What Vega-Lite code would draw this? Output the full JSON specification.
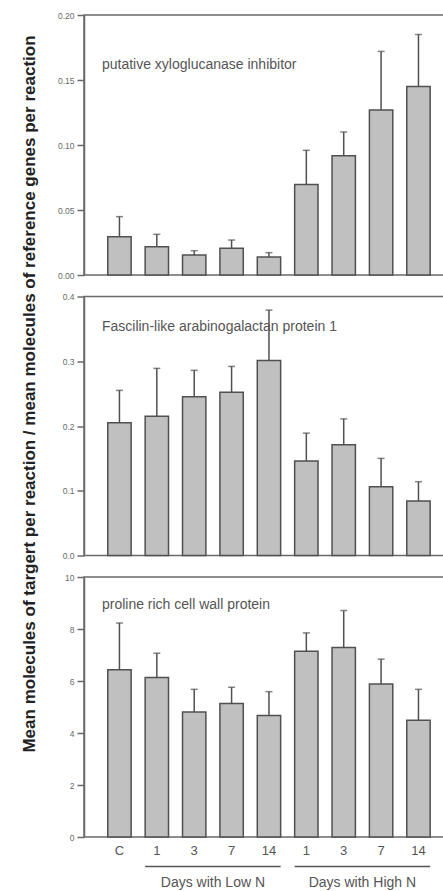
{
  "$schema": "https://vega.github.io/schema/vega-lite/v6.json",
  "padding": {"left": 19, "top": 10, "right": 0, "bottom": 0},
  "bounds": "flush",
  "spacing": 21.5,
  "config": {
    "font": "Liberation Sans",
    "view": {"stroke": "#6a6a6a", "strokeWidth": 1.5},
    "axis": {"grid": false, "domainColor": "#6a6a6a", "domainWidth": 1.5, "tickColor": "#6a6a6a", "tickWidth": 1.5, "tickSize": 7, "labelColor": "#6a6a6a", "labelFontSize": 8.5, "labelPadding": 3}
  },
  "datasets": {
    "xylo": [
      {"cond": "C", "mean": 0.0295, "upper": 0.0449},
      {"cond": "L1", "mean": 0.0218, "upper": 0.0313},
      {"cond": "L3", "mean": 0.0154, "upper": 0.0187},
      {"cond": "L7", "mean": 0.0205, "upper": 0.0269},
      {"cond": "L14", "mean": 0.0138, "upper": 0.0172},
      {"cond": "H1", "mean": 0.0697, "upper": 0.0959},
      {"cond": "H3", "mean": 0.0918, "upper": 0.110},
      {"cond": "H7", "mean": 0.127, "upper": 0.172},
      {"cond": "H14", "mean": 0.145, "upper": 0.185}
    ],
    "fasc": [
      {"cond": "C", "mean": 0.205, "upper": 0.255},
      {"cond": "L1", "mean": 0.215, "upper": 0.289},
      {"cond": "L3", "mean": 0.245, "upper": 0.286},
      {"cond": "L7", "mean": 0.252, "upper": 0.292},
      {"cond": "L14", "mean": 0.301, "upper": 0.379},
      {"cond": "H1", "mean": 0.146, "upper": 0.189},
      {"cond": "H3", "mean": 0.171, "upper": 0.211},
      {"cond": "H7", "mean": 0.106, "upper": 0.150},
      {"cond": "H14", "mean": 0.084, "upper": 0.114}
    ],
    "prol": [
      {"cond": "C", "mean": 6.43, "upper": 8.23},
      {"cond": "L1", "mean": 6.13, "upper": 7.07},
      {"cond": "L3", "mean": 4.81, "upper": 5.68},
      {"cond": "L7", "mean": 5.13, "upper": 5.76},
      {"cond": "L14", "mean": 4.67, "upper": 5.59},
      {"cond": "H1", "mean": 7.14, "upper": 7.85},
      {"cond": "H3", "mean": 7.29, "upper": 8.71},
      {"cond": "H7", "mean": 5.88, "upper": 6.84},
      {"cond": "H14", "mean": 4.49, "upper": 5.68}
    ],
    "groups": [
      {"group": "Days with Low N", "from": "L1", "to": "L14", "mid": "L3"},
      {"group": "Days with High N", "from": "H1", "to": "H14", "mid": "H3"}
    ]
  },
  "vconcat": [
    {
      "width": 362, "height": 260,
      "data": {"name": "xylo"},
      "layer": [
        {"mark": {"type": "bar", "fill": "#c0c0c0", "stroke": "#505050", "strokeWidth": 1.5},
         "encoding": {
           "x": {"field": "cond", "type": "nominal", "axis": null, "scale": {"domain": ["C","L1","L3","L7","L14","H1","H3","H7","H14"], "paddingInner": 0.375, "paddingOuter": 0.53, "align": 0.6}},
           "y": {"field": "mean", "type": "quantitative", "title": null, "scale": {"domain": [0, 0.2], "nice": false}, "axis": {"values": [0, 0.05, 0.1, 0.15, 0.2], "format": ".2f"}}}},
        {"mark": {"type": "rule", "color": "#505050", "strokeWidth": 1.5},
         "encoding": {
           "x": {"field": "cond", "type": "nominal"},
           "y": {"field": "mean", "type": "quantitative", "title": null},
           "y2": {"field": "upper"}}},
        {"mark": {"type": "tick", "color": "#505050", "thickness": 1.5, "size": 7},
         "encoding": {
           "x": {"field": "cond", "type": "nominal"},
           "y": {"field": "upper", "type": "quantitative", "title": null}}},
        {"data": {"values": [{"label": "putative xyloglucanase inhibitor"}]},
         "mark": {"type": "text", "align": "left", "baseline": "middle", "fontSize": 14, "color": "#555555"},
         "encoding": {
           "x": {"datum": "C", "type": "nominal", "bandPosition": -0.25},
           "y": {"datum": 0.1615, "type": "quantitative", "title": null},
           "text": {"field": "label"}}}
      ]
    },
    {
      "width": 362, "height": 259,
      "data": {"name": "fasc"},
      "layer": [
        {"mark": {"type": "bar", "fill": "#c0c0c0", "stroke": "#505050", "strokeWidth": 1.5},
         "encoding": {
           "x": {"field": "cond", "type": "nominal", "axis": null, "scale": {"domain": ["C","L1","L3","L7","L14","H1","H3","H7","H14"], "paddingInner": 0.375, "paddingOuter": 0.53, "align": 0.6}},
           "y": {"field": "mean", "type": "quantitative", "title": "Mean molecules of targert per reaction / mean molecules of reference genes per reaction", "scale": {"domain": [0, 0.4], "nice": false},
                 "axis": {"values": [0, 0.1, 0.2, 0.3, 0.4], "format": ".1f", "titleFontSize": 17, "titleFontWeight": "bold", "titleColor": "#222222", "titlePadding": 24, "titleY": 97, "titleLimit": 1000}}}},
        {"mark": {"type": "rule", "color": "#505050", "strokeWidth": 1.5},
         "encoding": {
           "x": {"field": "cond", "type": "nominal"},
           "y": {"field": "mean", "type": "quantitative", "title": "Mean molecules of targert per reaction / mean molecules of reference genes per reaction"},
           "y2": {"field": "upper"}}},
        {"mark": {"type": "tick", "color": "#505050", "thickness": 1.5, "size": 7},
         "encoding": {
           "x": {"field": "cond", "type": "nominal"},
           "y": {"field": "upper", "type": "quantitative", "title": "Mean molecules of targert per reaction / mean molecules of reference genes per reaction"}}},
        {"data": {"values": [{"label": "Fascilin-like arabinogalactan protein 1"}]},
         "mark": {"type": "text", "align": "left", "baseline": "middle", "fontSize": 14, "color": "#555555"},
         "encoding": {
           "x": {"datum": "C", "type": "nominal", "bandPosition": -0.25},
           "y": {"datum": 0.353, "type": "quantitative", "title": "Mean molecules of targert per reaction / mean molecules of reference genes per reaction"},
           "text": {"field": "label"}}}
      ]
    },
    {
      "width": 362, "height": 260,
      "data": {"name": "prol"},
      "layer": [
        {"mark": {"type": "bar", "fill": "#c0c0c0", "stroke": "#505050", "strokeWidth": 1.5},
         "encoding": {
           "x": {"field": "cond", "type": "nominal", "title": null, "scale": {"domain": ["C","L1","L3","L7","L14","H1","H3","H7","H14"], "paddingInner": 0.375, "paddingOuter": 0.53, "align": 0.6},
                 "axis": {"labelExpr": "datum.value == 'C' ? 'C' : substring(datum.value, 1)", "labelAngle": 0, "labelFontSize": 13, "labelPadding": 7, "ticks": false, "domain": false, "labelColor": "#555555"}},
           "y": {"field": "mean", "type": "quantitative", "title": null, "scale": {"domain": [0, 10], "nice": false}, "axis": {"values": [0, 2, 4, 6, 8, 10], "format": "d"}}}},
        {"mark": {"type": "rule", "color": "#505050", "strokeWidth": 1.5},
         "encoding": {
           "x": {"field": "cond", "type": "nominal", "title": null},
           "y": {"field": "mean", "type": "quantitative", "title": null},
           "y2": {"field": "upper"}}},
        {"mark": {"type": "tick", "color": "#505050", "thickness": 1.5, "size": 7},
         "encoding": {
           "x": {"field": "cond", "type": "nominal", "title": null},
           "y": {"field": "upper", "type": "quantitative", "title": null}}},
        {"data": {"values": [{"label": "proline rich cell wall protein"}]},
         "mark": {"type": "text", "align": "left", "baseline": "middle", "fontSize": 14, "color": "#555555"},
         "encoding": {
           "x": {"datum": "C", "type": "nominal", "bandPosition": -0.25, "title": null},
           "y": {"datum": 8.91, "type": "quantitative", "title": null},
           "text": {"field": "label"}}},
        {"data": {"name": "groups"},
         "mark": {"type": "rule", "color": "#555555", "strokeWidth": 1.5},
         "encoding": {
           "x": {"field": "from", "type": "nominal", "bandPosition": 0, "title": null},
           "x2": {"field": "to", "bandPosition": 1},
           "y": {"datum": -1.13, "type": "quantitative", "title": null}}},
        {"data": {"name": "groups"},
         "mark": {"type": "text", "baseline": "middle", "align": "center", "fontSize": 14, "color": "#555555"},
         "encoding": {
           "x": {"field": "mid", "type": "nominal", "bandPosition": 1.3, "title": null},
           "y": {"datum": -1.78, "type": "quantitative", "title": null},
           "text": {"field": "group"}}}
      ]
    }
  ]
}
